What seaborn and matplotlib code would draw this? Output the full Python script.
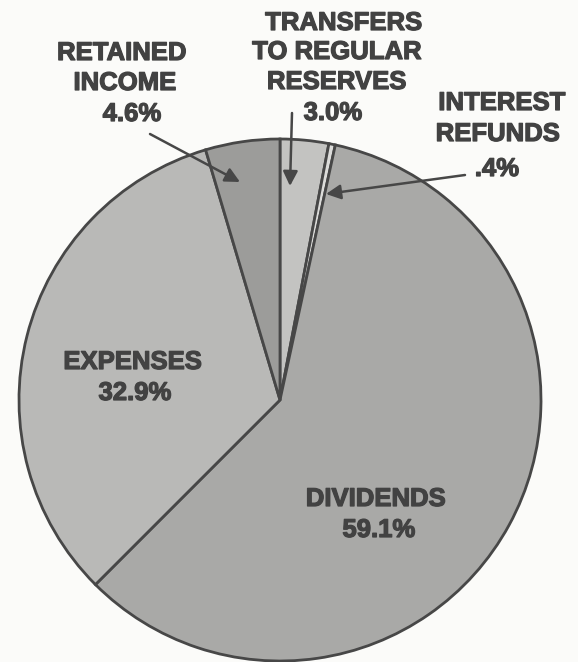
import matplotlib
matplotlib.use("Agg")
import matplotlib.pyplot as plt
import matplotlib.patheffects as pe
import seaborn as sns

sns.set_theme(style="white")
plt.rcParams["font.family"] = ["Liberation Sans", "DejaVu Sans"]

# Distribution of income, clockwise from twelve o'clock
categories = ["TRANSFERS TO REGULAR RESERVES", "INTEREST REFUNDS", "DIVIDENDS",
              "EXPENSES", "RETAINED INCOME"]
shares = [3.0, 0.4, 59.1, 32.9, 4.6]
share_labels = ["3.0%", ".4%", "59.1%", "32.9%", "4.6%"]
fills = ["#c3c3c1", "#dcdcda", "#a9a9a7", "#b9b9b7", "#9c9c9a"]

W, H = 578, 662
fig = plt.figure(figsize=(W / 100, H / 100), dpi=100)
fig.patch.set_facecolor("#fbfbf9")
ax = fig.add_axes([0, 0, 1, 1])
ax.set_facecolor("#fbfbf9")

cx, cy, r = 280, H - 400, 261
ax.pie(shares, colors=fills, startangle=90, counterclock=False,
       center=(cx, cy), radius=r, frame=False,
       wedgeprops=dict(edgecolor="#474747", linewidth=2.0))
ax.set_xlim(0, W)
ax.set_ylim(0, H)
ax.set_aspect("equal")
ax.axis("off")

ink = "#424242"
fs = 18.5
thicken = [pe.withStroke(linewidth=0.9, foreground=ink)]


def put(x, y, s):
    ax.text(x, H - y, s, color=ink, fontsize=fs, fontweight="bold",
            ha="center", va="center", path_effects=thicken)


# retained income
put(122, 53, "RETAINED")
put(125, 83, "INCOME")
put(132, 114, share_labels[4])
# transfers to regular reserves
put(344, 23, "TRANSFERS")
put(337, 52, "TO REGULAR")
put(337, 82, "RESERVES")
put(333, 113, share_labels[0])
# interest refunds
put(502, 103, "INTEREST")
put(498, 134, "REFUNDS")
put(497, 169, share_labels[1])
# expenses
put(133, 362, "EXPENSES")
put(135, 393, share_labels[3])
# dividends
put(376, 499, "DIVIDENDS")
put(379, 530, share_labels[2])

arrow = dict(arrowstyle="-|>", color="#474747", lw=1.8, mutation_scale=22,
             shrinkA=0, shrinkB=0)


def pointer(x0, y0, x1, y1):
    ax.annotate("", xy=(x1, H - y1), xytext=(x0, H - y0), arrowprops=arrow)


pointer(150, 134, 240, 182)
pointer(292, 113, 290, 186)
pointer(465, 175, 326, 194)

fig.savefig("out.png", dpi=100, facecolor=fig.get_facecolor())
